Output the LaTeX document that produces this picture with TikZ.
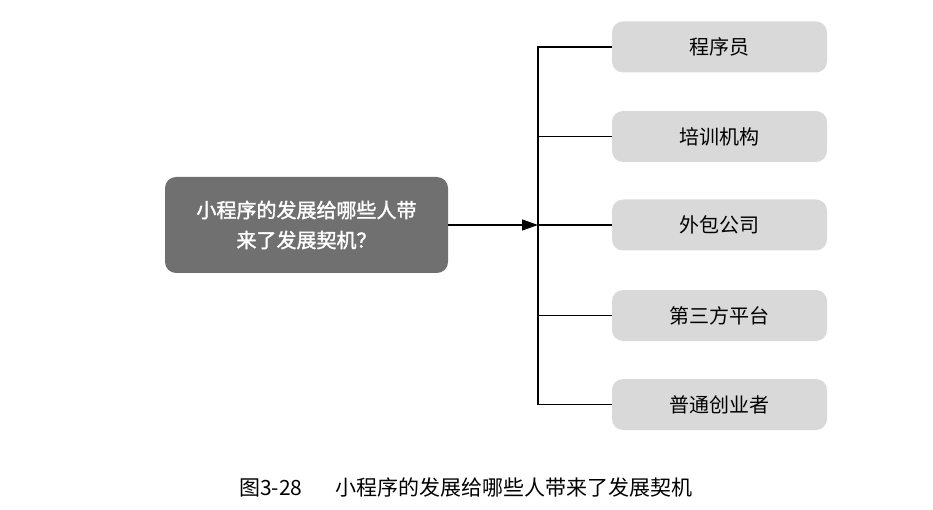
\documentclass[tikz,border=0pt]{standalone}
\usepackage{fontspec}
\setmainfont{Noto Sans CJK SC}
\newfontfamily\cjkbold{Noto Sans CJK SC}[FakeBold=1.6]
\usetikzlibrary{arrows.meta}
\definecolor{qgray}{HTML}{707070}
\definecolor{agray}{HTML}{D9D9D9}

\begin{document}
\begin{tikzpicture}[x=1pt, y=-1pt,
  every node/.style={inner sep=0pt, rounded corners=11pt},
  qbox/.style={fill=qgray, text=white, minimum width=283pt, minimum height=96pt, align=center, font=\cjkbold\fontsize{20}{30}\selectfont},
  abox/.style={fill=agray, minimum width=215pt, minimum height=51pt, font=\fontsize{20}{24}\selectfont},
  link/.style={line width=1.2pt, black}]
\useasboundingbox (0,0) rectangle (933,510);
\node[qbox] (Q) at (306.5,225) {小程序的发展给哪些人带\\来了发展契机？};
\node[abox] (A1) at (719.5,47) {程序员};
\node[abox] (A2) at (719.5,136.5) {培训机构};
\node[abox] (A3) at (719.5,225) {外包公司};
\node[abox] (A4) at (719.5,315.5) {第三方平台};
\node[abox] (A5) at (719.5,404.5) {普通创业者};
\coordinate (J) at (538,225);
\draw[link, -{Triangle[length=16pt, width=11pt]}] (Q.east) -- (J);
\foreach \i in {1,...,5}
  \draw[link] (A\i.west) -| (J);
\node[rounded corners=0pt, font=\fontsize{21}{24}\selectfont] (C) at (466,487) {图3-28\hspace{1.6em}小程序的发展给哪些人带来了发展契机};
\end{tikzpicture}
\end{document}
